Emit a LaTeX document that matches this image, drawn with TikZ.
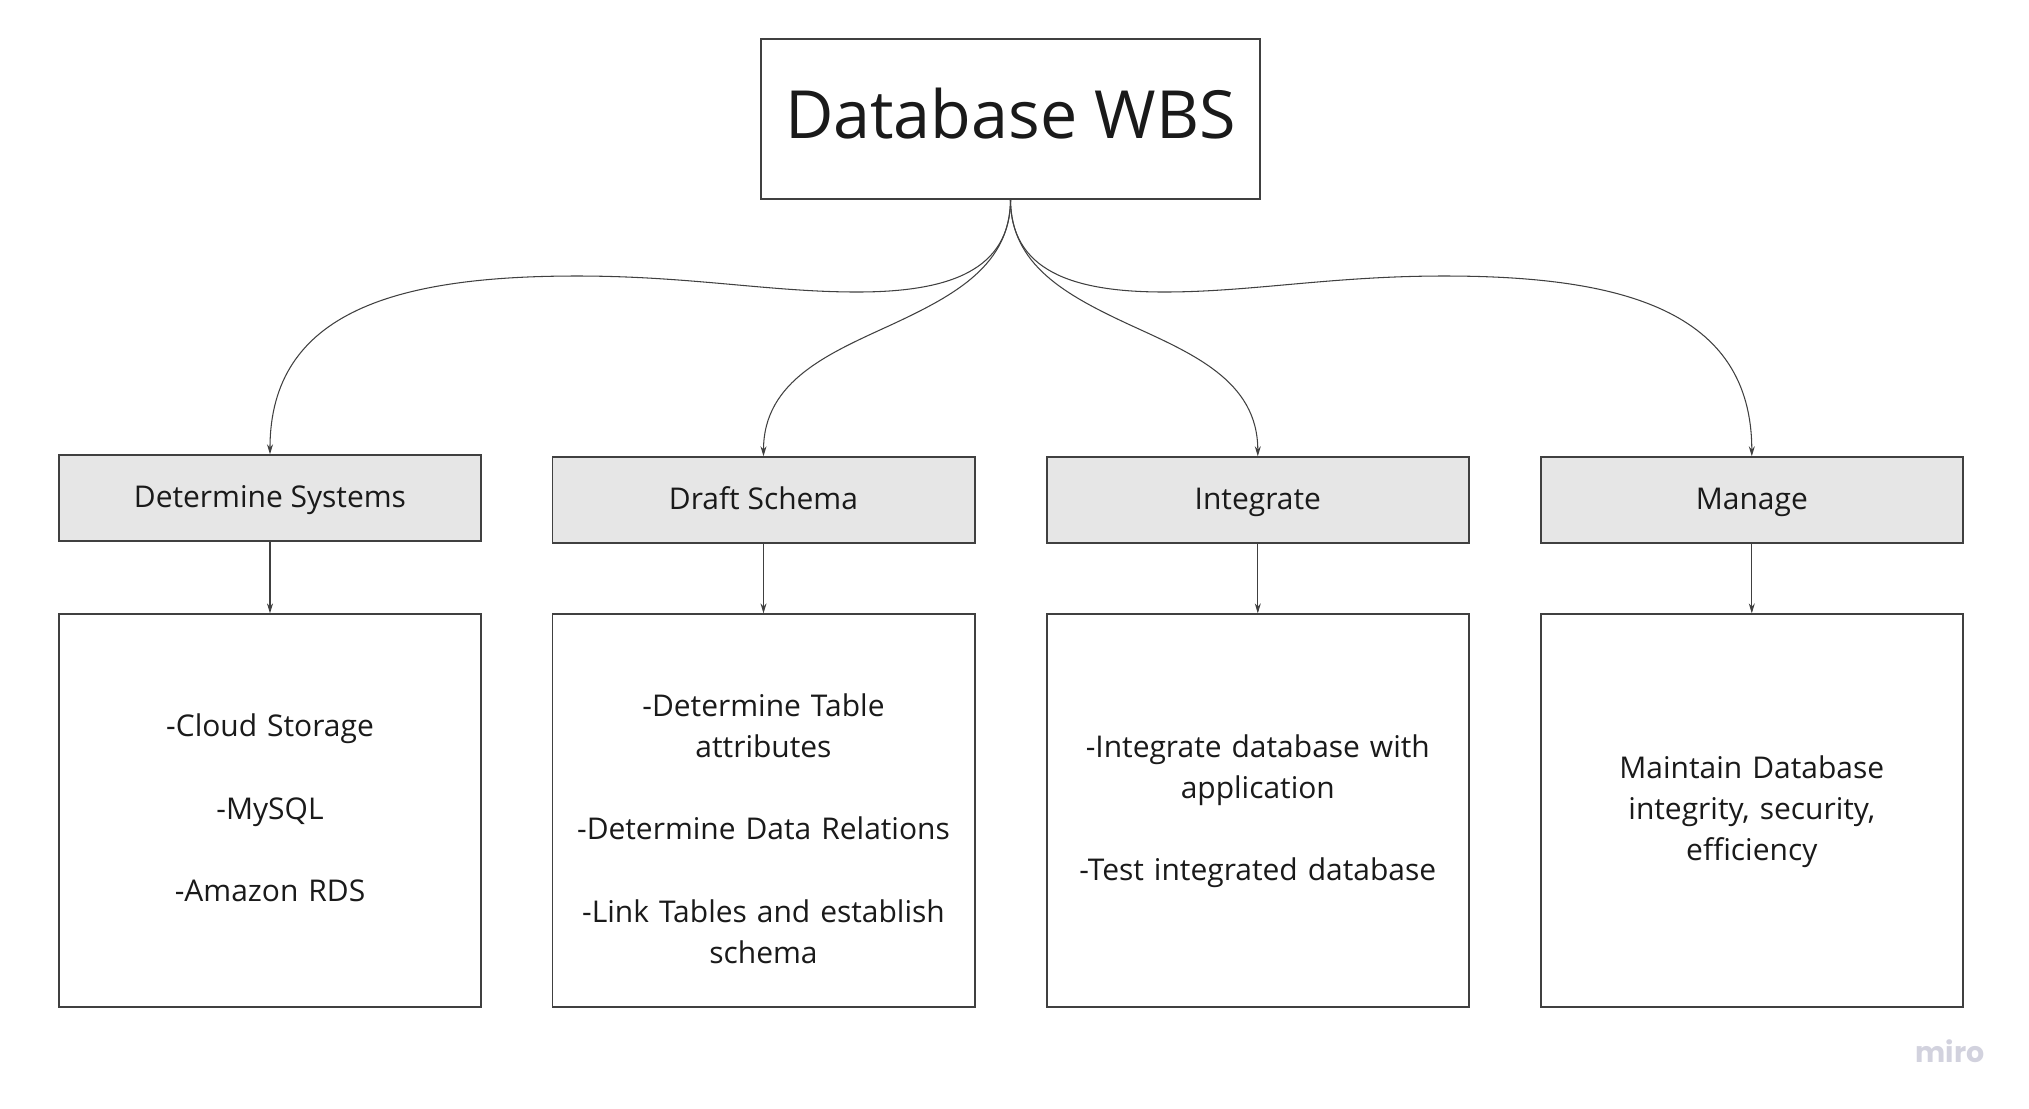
\documentclass[tikz,border=0pt]{standalone}
\usepackage{fontspec}
\setmainfont{Open Sans}
\newfontfamily\wmfont{Poppins}
\usetikzlibrary{arrows.meta,positioning}
\definecolor{framecol}{HTML}{404040}
\definecolor{headcol}{HTML}{E6E6E6}
\definecolor{textcol}{HTML}{1A1A1A}
\definecolor{wmcol}{HTML}{D2D2DE}
\newcommand{\linestrut}{\rule[-0.09cm]{0pt}{0.35cm}}

\begin{document}
\begin{tikzpicture}[x=0.01cm,y=-0.01cm,
  conn/.style={line width=0.3pt,draw=framecol,-{Stealth[length=1mm,width=0.6mm]},shorten >=0.2pt},
  body/.style={font=\fontsize{8.52}{11.68}\selectfont,text=textcol,align=center},
  title/.style={rectangle,draw=framecol,line width=0.5pt,minimum width=4.99cm,minimum height=1.60cm,
    inner sep=0pt,outer sep=0pt,text depth=0.12cm,text=textcol,font=\fontsize{18.9}{24}\selectfont},
  head/.style={rectangle,draw=framecol,fill=headcol,line width=0.5pt,minimum width=4.22cm,minimum height=0.86cm,
    inner sep=0pt,outer sep=0pt,text height=0.26cm,text depth=0.08cm,body},
  detail/.style={rectangle,draw=framecol,fill=white,line width=0.5pt,minimum width=4.22cm,minimum height=3.93cm,
    inner sep=0pt,outer sep=0pt,text width=3.9cm,body}]
    \useasboundingbox (0,0) rectangle (2029,1108);

    \node[title]              (root) at (1010.5,119) {Database WBS};

    \node[head]               (systems)  at (270,498) {Determine Systems};
    \node[head]               (schema)   at (763.5,500) {Draft Schema};
    \node[head]               (integrate) at (1257.8,500) {Integrate};
    \node[head]               (manage)   at (1751.8,500) {Manage};

    \node[detail,below=0.73cm of systems] (systemsbox) {\linestrut-Cloud Storage\\[0.412cm]-MySQL\\[0.412cm]-Amazon RDS\linestrut};
    \node[detail,below=0.71cm of schema]  (schemabox) {\linestrut\\-Determine Table\\attributes\\[0.412cm]-Determine Data Relations\\[0.412cm]-Link Tables and establish\\schema\linestrut};
    \node[detail,below=0.71cm of integrate] (integratebox) {\linestrut-Integrate database with\\application\\[0.412cm]-Test integrated database\linestrut};
    \node[detail,below=0.71cm of manage]  (managebox) {\linestrut Maintain Database\\integrity, security,\\efficiency\linestrut};

    \node[font=\wmfont\bfseries\fontsize{8.1}{10}\selectfont,text=wmcol,inner sep=0pt] (brand) at (1950,1051) {miro};

    \draw[conn] (root.south) .. controls (1010.5,270) and (950,292) .. (857,292)
                             .. controls (770,292) and (690,276) .. (577,276)
                             .. controls (400,276) and (270,310) .. (systems.north);
    \draw[conn] (root.south) .. controls (1010.5,265) and (955,295) .. (893,324)
                             .. controls (830,353) and (763.5,380) .. (schema.north);
    \draw[conn] (root.south) .. controls (1010.5,265) and (1066,295) .. (1128,324)
                             .. controls (1191,353) and (1257.8,380) .. (integrate.north);
    \draw[conn] (root.south) .. controls (1010.5,270) and (1071,292) .. (1164,292)
                             .. controls (1251,292) and (1331,276) .. (1444,276)
                             .. controls (1621,276) and (1751.8,310) .. (manage.north);

    \draw[conn] (systems) -- (systemsbox);
    \draw[conn] (schema) -- (schemabox);
    \draw[conn] (integrate) -- (integratebox);
    \draw[conn] (manage) -- (managebox);
\end{tikzpicture}
\end{document}
